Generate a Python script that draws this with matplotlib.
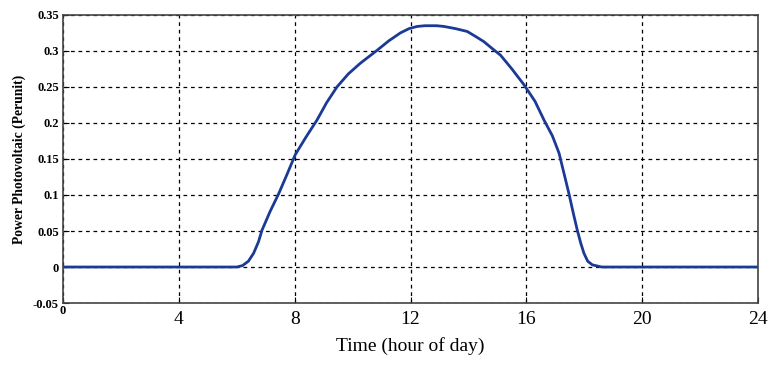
"""Photovoltaic power over a day (per unit)."""
import matplotlib
matplotlib.use("Agg")
from matplotlib import pyplot as plt

# values
hours = [0, 2, 4, 6.0, 6.2, 6.4, 6.58, 6.75, 6.87, 7.15, 7.45, 7.75, 8.02, 8.4, 8.77,
         9.1, 9.46, 9.85, 10.27, 10.85, 11.25, 11.65, 11.95, 12.23, 12.5, 12.9, 13.15,
         13.55, 13.96, 14.25, 14.53, 14.8, 15.11, 15.5, 15.92, 16.3, 16.61, 16.9, 17.13,
         17.3, 17.47, 17.62, 17.76, 17.88, 17.99, 18.12, 18.28, 18.6, 20, 22, 24]
power = [0, 0, 0, 0, 0.002, 0.008, 0.019, 0.035, 0.051, 0.077, 0.102, 0.130, 0.156,
         0.181, 0.204, 0.228, 0.250, 0.268, 0.283, 0.301, 0.314, 0.325, 0.331, 0.334,
         0.335, 0.335, 0.334, 0.331, 0.327, 0.320, 0.313, 0.304, 0.294, 0.275, 0.253,
         0.230, 0.204, 0.182, 0.158, 0.130, 0.102, 0.075, 0.051, 0.033, 0.019, 0.008,
         0.003, 0, 0, 0, 0]

x_ticks = [0, 4, 8, 12, 16, 20, 24]
y_ticks = [-0.05, 0, 0.05, 0.1, 0.15, 0.2, 0.25, 0.3, 0.35]
y_labels = ["-0.05", "0", "0.05", "0.1", "0.15", "0.2", "0.25", "0.3", "0.35"]

serif = ["Liberation Serif", "DejaVu Serif"]

fig = plt.figure(figsize=(7.8, 3.7), dpi=100)
ax = fig.add_axes([0.0808, 0.181, 0.891, 0.7787])

ax.plot(hours, power, color="#1b3a96", lw=2)

ax.set_xlim(0, 24)
ax.set_ylim(-0.05, 0.35)

ax.set_xticks(x_ticks)
ax.set_xticklabels([""] + [str(t) for t in x_ticks[1:]], family=serif, fontsize=14)
ax.set_yticks(y_ticks)
ax.set_yticklabels(y_labels, family=serif, fontsize=9, fontweight="bold")
ax.tick_params(axis="x", direction="in", length=4, pad=6)
ax.tick_params(axis="y", direction="in", length=4, pad=3)
ax.text(0, -0.053, "0", family=serif, fontsize=9, fontweight="bold",
        ha="center", va="top")

ax.grid(True, color="black", linestyle=(0, (3, 3)), lw=0.9)

for sp in ax.spines.values():
    sp.set_color("#444444")
    sp.set_linewidth(1.2)

ax.set_xlabel("Time (hour of day)", family=serif, fontsize=14, labelpad=6)
ax.set_ylabel("Power Photovoltaic (Perunit)", family=serif, fontsize=9.8,
              fontweight="bold", labelpad=5)

fig.savefig("out.png", dpi=100)
